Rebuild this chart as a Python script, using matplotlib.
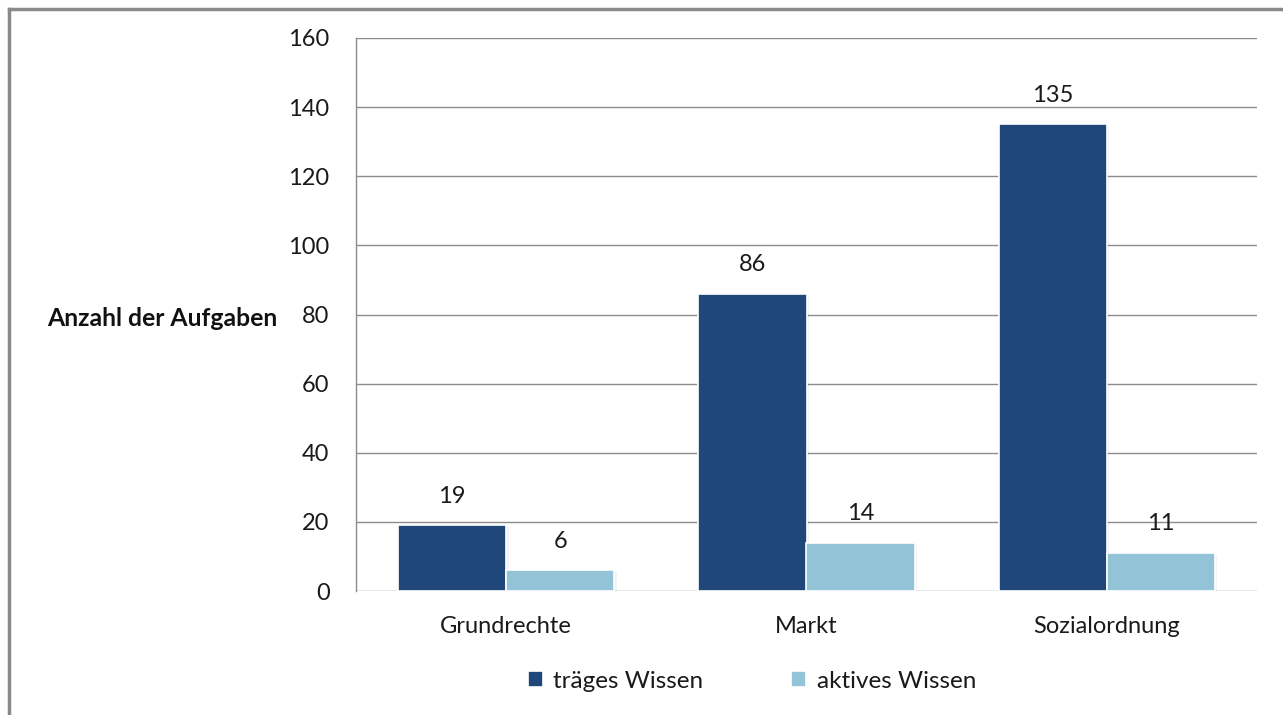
import matplotlib.pyplot as plt
import numpy as np

# categories and series
categories = ['Grundrechte', 'Markt', 'Sozialordnung']
traeges = [19, 86, 135]
aktives = [6, 14, 11]
series_names = ['träges Wissen', 'aktives Wissen']
yticks = [0, 20, 40, 60, 80, 100, 120, 140, 160]

dark = '#1F477A'
light = '#93C3D6'
grid_col = '#8C8C8C'
txt = '#1a1a1a'

plt.rcParams['font.family'] = ['Lato', 'DejaVu Sans']

fig = plt.figure(figsize=(12.83, 7.15), dpi=100)
ax = fig.add_axes([356/1283, 1-591/715, (1257-356)/1283, (591-38)/715])

x = np.arange(len(categories))
w = 0.36

# soft shadow behind bars
for vals, off in [(traeges, -w/2), (aktives, w/2)]:
    ax.bar(x + off + 0.008, vals, w, bottom=-0.6, color='#000000', alpha=0.05,
           zorder=2, linewidth=0)

b1 = ax.bar(x - w/2, traeges, w, color=dark, edgecolor='white', linewidth=1.2,
            zorder=3, label=series_names[0])
b2 = ax.bar(x + w/2, aktives, w, color=light, edgecolor='white', linewidth=1.2,
            zorder=3, label=series_names[1])

for bars, vals in [(b1, traeges), (b2, aktives)]:
    for r, v in zip(bars, vals):
        ax.annotate(str(v), (r.get_x() + r.get_width()/2, v), xytext=(0, 21),
                    textcoords='offset points', ha='center', va='center',
                    fontsize=17, color=txt)

ax.set_xlim(-0.5, 2.5)
ax.set_ylim(0, 160)
ax.set_yticks(yticks)
ax.set_yticklabels([str(t) for t in yticks], fontsize=17, color=txt)
ax.set_xticks(x)
ax.set_xticklabels(categories, fontsize=17, color=txt)
ax.tick_params(axis='y', length=0, pad=19)
ax.tick_params(axis='x', length=0, pad=18)

ax.yaxis.grid(True, color=grid_col, linewidth=1.0, zorder=0)
ax.set_axisbelow(True)
for s in ['top', 'right', 'bottom']:
    ax.spines[s].set_visible(False)
ax.spines['left'].set_color(grid_col)
ax.spines['left'].set_linewidth(1.0)

fig.text(47/1283, 1-318/715, 'Anzahl der Aufgaben', fontsize=17.8,
         fontweight='bold', va='center', ha='left', color='#111111')

leg = fig.legend(handles=[b1, b2], labels=series_names, loc='center',
                 bbox_to_anchor=(752/1283, 1-681/715), ncol=2, frameon=False,
                 fontsize=17.5, handlelength=0.6, handleheight=0.6,
                 handletextpad=0.45, columnspacing=3.6)
for t in leg.get_texts():
    t.set_color(txt)

# outer frame (top and left edges)
fig.add_artist(plt.Line2D([9/1283, 1], [1-9/715, 1-9/715], color='#8a8a8a',
                          linewidth=2.5, transform=fig.transFigure))
fig.add_artist(plt.Line2D([9/1283, 9/1283], [0, 1-9/715], color='#8a8a8a',
                          linewidth=2.5, transform=fig.transFigure))

fig.savefig('out.png', dpi=100)
